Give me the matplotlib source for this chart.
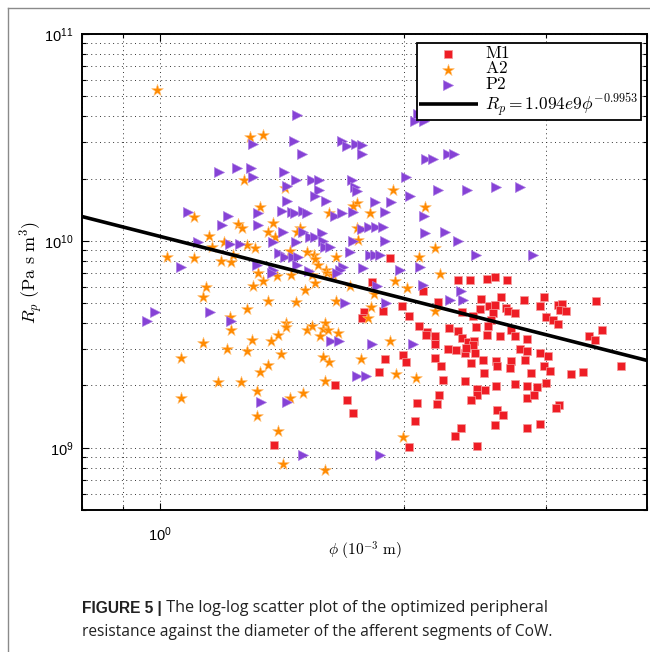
import matplotlib
matplotlib.use('Agg')
import matplotlib.pyplot as plt
import numpy as np
from matplotlib.ticker import LogLocator, FuncFormatter, NullFormatter
from matplotlib.lines import Line2D

# ---------------- data (phi in 1e-3 m, R in 1e9 Pa s m^-3) ----------------
m1_phi = [1.827, 1.786, 1.776, 1.645, 1.701, 1.731, 1.383, 1.864, 1.923, 2.112,
          2.333, 2.414, 2.533, 2.592, 2.681, 2.204, 1.989, 1.885, 2.029, 2.490,
          2.636, 2.814, 2.483, 2.548, 2.592, 2.577, 2.674, 2.689, 2.743, 2.360,
          2.435, 2.562, 2.541, 2.533, 2.455, 2.628, 2.712, 2.743, 2.838, 2.088,
          2.136, 2.130, 2.185, 2.185, 2.274, 2.333, 2.360, 2.400, 2.442, 2.435,
          2.267, 2.320, 2.380, 2.449, 2.387, 2.421, 2.505, 2.599, 2.606, 2.712,
          2.704, 2.782, 2.822, 2.838, 1.995, 2.012, 1.896, 2.185, 2.223, 2.512,
          2.235, 2.380, 2.743, 2.599, 2.838, 2.462, 2.519, 2.462, 2.210, 2.198,
          2.421, 2.076, 2.838, 2.606, 2.651, 2.064, 2.592, 2.353, 2.313, 2.838,
          2.029, 2.462, 2.987, 2.945, 3.100, 3.144, 3.126, 3.180, 3.463, 3.004,
          3.056, 3.100, 2.953, 3.021, 3.395, 3.453, 3.523, 2.987, 3.030, 2.871,
          3.004, 3.225, 3.338, 3.719, 2.920, 2.903, 3.117, 3.091, 2.953]
m1_R = [6.35, 4.55, 4.25, 2.01, 1.705, 1.475, 1.033, 2.33, 8.22, 5.75,
        6.49, 6.49, 6.56, 6.71, 6.49, 5.09, 4.86, 4.60, 4.35, 5.26,
        5.38, 5.20, 4.70, 4.86, 4.92, 4.50, 4.76, 4.60, 4.50, 4.55,
        4.35, 4.16, 3.89, 3.52, 3.85, 3.48, 3.72, 3.48, 3.36, 3.89,
        3.64, 3.52, 3.48, 3.18, 3.80, 3.68, 3.40, 3.25, 3.29, 3.15,
        3.01, 2.97, 2.88, 2.88, 3.04, 2.57, 2.66, 2.63, 2.49, 2.63,
        2.43, 3.01, 2.66, 2.94, 2.81, 2.60, 2.69, 2.72, 2.49, 2.31,
        2.13, 2.11, 2.04, 1.99, 1.99, 1.93, 1.91, 1.80, 1.80, 1.63,
        1.705, 1.65, 1.744, 1.525, 1.443, 1.35, 1.29, 1.25, 1.142, 1.25,
        1.01, 1.02, 5.38, 4.86, 4.92, 4.97, 4.65, 4.60, 5.14, 4.30,
        4.16, 3.98, 2.88, 2.78, 3.48, 3.33, 3.72, 2.49, 2.36, 2.31,
        2.06, 2.28, 2.33, 2.49, 1.97, 1.80, 1.61, 1.56, 1.305]

a2_phi = [0.991, 1.101, 1.150, 1.159, 1.199, 1.020, 1.101, 1.189, 1.224, 1.140,
          1.130, 1.220, 1.224, 1.130, 1.210, 1.061, 1.179, 1.061, 1.291, 1.340,
          1.270, 1.427, 1.751, 1.731, 1.329, 1.617, 1.816, 1.249, 1.262, 1.379,
          1.359, 1.387, 1.489, 1.476, 1.751, 1.756, 1.281, 1.310, 1.447, 1.231,
          1.519, 1.550, 1.554, 1.649, 1.567, 1.603, 1.321, 1.395, 1.451, 1.541,
          1.554, 1.608, 1.635, 1.716, 1.302, 1.340, 1.510, 1.359, 1.472, 1.281,
          1.649, 1.837, 1.822, 1.806, 1.431, 1.431, 1.399, 1.371, 1.519, 1.541,
          1.599, 1.590, 1.612, 1.576, 1.659, 1.299, 1.281, 1.410, 1.590, 1.617,
          1.771, 1.359, 1.329, 1.259, 1.599, 1.317, 1.447, 1.502, 1.317, 1.399,
          1.418, 1.599, 1.939, 2.124, 2.185, 2.088, 2.216, 1.950, 2.018, 2.185,
          1.923, 1.956, 2.070, 1.995]
a2_R = [53.4, 12.98, 10.61, 9.29, 9.82, 8.40, 8.22, 8.03, 7.94, 6.01,
        5.38, 4.30, 3.72, 3.22, 3.01, 2.72, 2.08, 1.744, 31.62, 32.33,
        19.58, 17.92, 15.16, 14.66, 14.50, 13.57, 13.57, 12.13, 11.60, 12.26,
        11.09, 10.49, 11.60, 11.09, 11.60, 10.15, 9.50, 9.19, 8.98, 8.50,
        8.79, 8.59, 8.13, 8.40, 7.68, 7.26, 7.02, 6.79, 6.86, 6.86,
        6.28, 7.02, 6.86, 6.08, 6.08, 6.43, 5.81, 5.14, 5.09, 4.70,
        5.14, 5.56, 4.81, 4.25, 4.02, 3.85, 3.52, 3.29, 3.72, 3.89,
        4.02, 3.76, 3.72, 3.48, 3.60, 3.33, 2.94, 2.84, 2.75, 2.60,
        2.69, 2.51, 2.33, 2.08, 2.11, 1.886, 1.744, 1.844, 1.427, 1.207,
        0.836, 0.782, 17.52, 14.50, 9.19, 8.31, 6.94, 6.43, 5.94, 4.60,
        3.29, 2.28, 2.18, 1.129]

p2_phi = [1.182, 1.083, 1.213, 1.192, 1.114, 1.220, 1.061, 0.986, 0.964, 1.153,
          1.224, 1.476, 1.302, 1.464, 1.498, 1.677, 1.701, 1.746, 1.776, 1.776,
          1.245, 1.295, 1.302, 1.422, 1.472, 1.541, 1.572, 1.435, 1.572, 1.554,
          1.603, 1.435, 1.726, 1.741, 1.751, 1.842, 1.321, 1.414, 1.455, 1.468,
          1.502, 1.519, 1.645, 1.677, 1.731, 1.321, 1.418, 1.502, 1.532, 1.554,
          1.585, 1.776, 1.811, 1.847, 1.885, 1.731, 1.255, 1.379, 1.472, 1.590,
          1.599, 1.621, 1.403, 1.427, 1.459, 1.480, 1.716, 1.816, 1.842, 1.317,
          1.379, 1.476, 1.682, 1.668, 1.781, 1.528, 1.375, 1.654, 1.692, 1.853,
          1.626, 1.663, 1.827, 1.751, 1.796, 1.332, 1.435, 1.502, 1.869, 2.082,
          2.064, 2.118, 2.130, 2.173, 2.267, 2.306, 2.012, 2.204, 2.393, 2.599,
          2.782, 2.035, 1.928, 1.896, 2.118, 2.124, 2.248, 2.333, 1.896, 2.094,
          1.978, 2.455, 1.869, 2.887, 2.112, 2.353, 2.366, 2.280, 1.901, 2.052]
p2_R = [21.41, 13.72, 13.13, 11.99, 9.82, 9.71, 7.51, 4.55, 4.11, 4.55,
        4.11, 40.42, 29.25, 30.24, 26.17, 30.24, 28.61, 29.25, 28.93, 26.17,
        22.38, 22.38, 20.25, 21.41, 19.58, 19.58, 19.58, 18.32, 17.52, 16.39,
        15.50, 15.67, 19.58, 18.12, 17.33, 15.33, 13.57, 13.88, 13.72, 13.57,
        13.88, 13.57, 13.13, 13.57, 13.72, 11.99, 11.09, 11.09, 10.49, 10.49,
        10.97, 11.47, 11.73, 11.73, 11.73, 10.04, 9.71, 9.82, 9.82, 9.93,
        9.39, 9.29, 8.69, 8.31, 8.40, 8.31, 8.79, 8.59, 8.59, 7.68,
        7.26, 7.68, 7.51, 7.26, 7.42, 7.18, 7.02, 7.02, 5.03, 6.08,
        3.29, 3.29, 3.18, 2.23, 2.23, 1.668, 1.668, 0.924, 0.924, 40.87,
        37.80, 37.80, 24.75, 24.75, 26.17, 26.17, 20.25, 17.52, 17.52, 18.12,
        18.12, 16.39, 15.33, 13.72, 13.13, 10.97, 11.09, 10.04, 10.04, 7.51,
        7.26, 8.59, 8.59, 8.59, 6.14, 5.75, 5.20, 5.20, 5.03, 3.18]

fit_coef = 1.05e10
fit_exp = -0.9953
series_labels = [r'$\mathrm{M1}$', r'$\mathrm{A2}$', r'$\mathrm{P2}$']
fit_label = r'$R_p = 1.094e9\phi^{-0.9953}$'
x_label = r'$\phi\ \mathrm{(10^{-3}\ m)}$'
y_label = r'$R_p\ \mathrm{(Pa\ s\ m^3)}$'
caption_bold = 'FIGURE 5 |'
caption_line1 = ' The log-log scatter plot of the optimized peripheral'
caption_line2 = 'resistance against the diameter of the afferent segments of CoW.'

# ---------------- figure ----------------
plt.rcParams['font.family'] = ['Liberation Sans', 'DejaVu Sans']
plt.rcParams['mathtext.fontset'] = 'cm'

W, H = 650, 652
fig = plt.figure(figsize=(W / 100, H / 100), dpi=100)
ax = fig.add_axes([82 / W, 1 - 510 / H, (647 - 82) / W, (510 - 34) / H])

red = '#EE1D25'
orange = '#FF8A00'
purple = '#8642D6'

s1 = ax.scatter(m1_phi, np.array(m1_R) * 1e9, marker='s', s=30, c=red,
                edgecolors='#F59A9A', linewidths=0.5, zorder=3, label=series_labels[0])
s2 = ax.scatter(a2_phi, np.array(a2_R) * 1e9, marker='*', s=80, c=orange,
                edgecolors='#FFC27A', linewidths=0.4, zorder=3, label=series_labels[1])
s3 = ax.scatter(p2_phi, np.array(p2_R) * 1e9, marker='>', s=55, c=purple,
                edgecolors='#B58BE6', linewidths=0.4, zorder=3, label=series_labels[2])

ax.set_xscale('log')
ax.set_yscale('log')
ax.set_xlim(0.8, 4.0)
ax.set_ylim(5e8, 1e11)

xl = np.logspace(np.log10(0.8), np.log10(4.0), 60)
ln, = ax.plot(xl, fit_coef * xl ** fit_exp, color='black', lw=2.6, zorder=4,
              label=fit_label, solid_capstyle='butt')

ax.xaxis.set_major_locator(LogLocator(base=10, numticks=10))
ax.xaxis.set_minor_locator(LogLocator(base=10, subs=np.arange(2, 10), numticks=10))
ax.yaxis.set_major_locator(LogLocator(base=10, numticks=10))
ax.yaxis.set_minor_locator(LogLocator(base=10, subs=np.arange(2, 10), numticks=10))
fmt = FuncFormatter(lambda v, p: r'$\mathdefault{10^{%d}}$' % int(round(np.log10(v))))
ax.xaxis.set_major_formatter(fmt)
ax.yaxis.set_major_formatter(fmt)
ax.xaxis.set_minor_formatter(NullFormatter())
ax.yaxis.set_minor_formatter(NullFormatter())

ax.tick_params(which='both', direction='in', top=True, right=True, width=0.8)
ax.tick_params(which='major', length=5, labelsize=10.5)
ax.tick_params(axis='x', which='major', pad=11)
ax.tick_params(axis='y', which='major', pad=6)
ax.tick_params(which='minor', length=3)

ax.grid(True, which='both', linestyle=(0, (1, 3.5)), color='#333333', lw=0.7)
ax.set_axisbelow(True)
for sp in ax.spines.values():
    sp.set_linewidth(1.4)

ax.set_xlabel(x_label, fontsize=11, labelpad=-3)
ax.set_ylabel(y_label, fontsize=13, labelpad=0)

leg = ax.legend(handles=[s1, s2, s3, ln], loc='upper right',
                bbox_to_anchor=(0.9885, 0.981), borderaxespad=0, fontsize=12.5,
                frameon=True, fancybox=False, framealpha=1, edgecolor='black',
                labelspacing=-0.04, handleheight=0.5, handlelength=3.4,
                handletextpad=0.4, borderpad=0.12, scatterpoints=1)
leg.get_frame().set_linewidth(1.3)
leg.set_zorder(6)

# outer frame lines
fig.add_artist(Line2D([8 / W, 8 / W], [0, 1 - 7.5 / H], color='#8a8a8a', lw=1.0))
fig.add_artist(Line2D([8 / W, 1], [1 - 7.5 / H, 1 - 7.5 / H], color='#8a8a8a', lw=1.0))

# caption
fig.canvas.draw()
r = fig.canvas.get_renderer()
t1 = fig.text(82 / W, 1 - 608 / H, caption_bold, fontsize=11.2, fontweight='bold',
              va='center', ha='left', color='#222222')
bb = t1.get_window_extent(renderer=r)
fig.text(bb.x1 / W, 1 - 608 / H, caption_line1, fontsize=11.6, va='center', ha='left',
         color='#222222', family=['Open Sans', 'DejaVu Sans'])
fig.text(82 / W, 1 - 632 / H, caption_line2, fontsize=11.2, va='center', ha='left',
         color='#222222', family=['Open Sans', 'DejaVu Sans'])

fig.savefig('out.png', dpi=100)
